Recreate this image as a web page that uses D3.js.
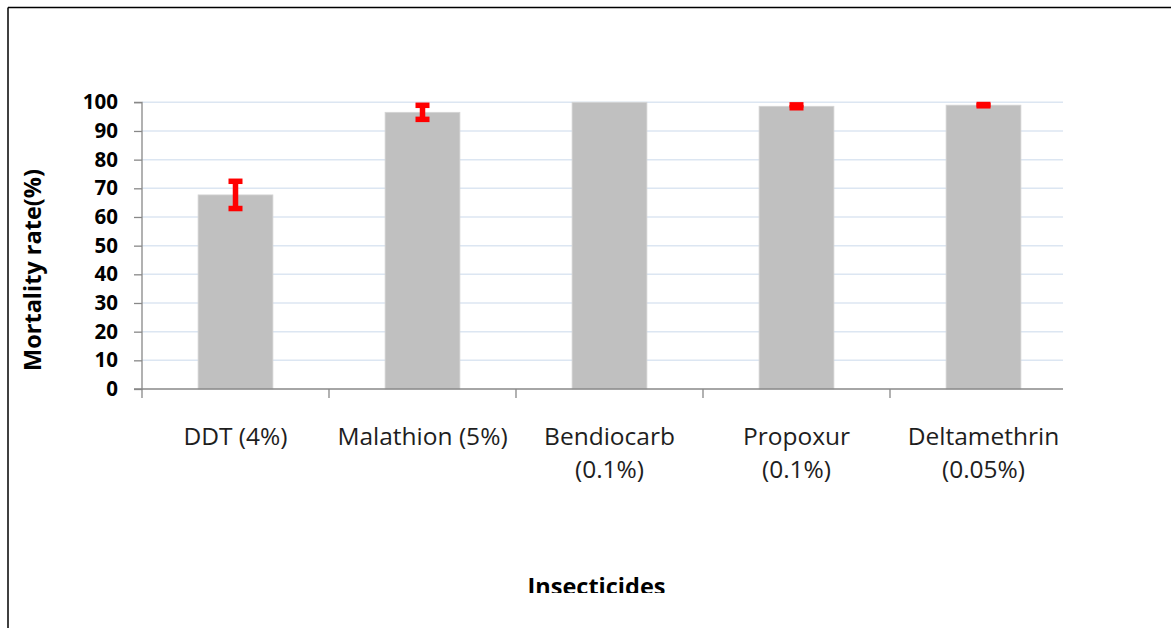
<!DOCTYPE html>
<html>
<head>
<meta charset="utf-8">
<script src="https://cdn.jsdelivr.net/npm/d3@7"></script>
<style>
  html, body { margin: 0; padding: 0; background: #fff; }
  svg { display: block; }
</style>
</head>
<body>
<svg id="chart" width="1171" height="628"></svg>
<script>
// ---- data ----
const categories = [["DDT (4%)"], ["Malathion (5%)"], ["Bendiocarb", "(0.1%)"], ["Propoxur", "(0.1%)"], ["Deltamethrin", "(0.05%)"]];
const mortality = [67.7, 96.5, 100, 98.6, 99.0];
const errors = [4.75, 2.45, 0, 0.5, 0.22];
const yTicks = [0, 10, 20, 30, 40, 50, 60, 70, 80, 90, 100];
const yTitle = "Mortality rate(%)";
const xTitle = "Insecticides";

// ---- layout ----
const W = 1171, H = 628;
const plotLeft = 142, plotRight = 1063, bandRight = 1077;
const plotTop = 102.3, plotBottom = 389;
const FONT = "'Open Sans', Lato, sans-serif";

const svg = d3.select("#chart");

// frame borders
svg.append("line").attr("x1", 8).attr("x2", W).attr("y1", 7.5).attr("y2", 7.5)
  .attr("stroke", "#000").attr("stroke-width", 1.5);
svg.append("line").attr("x1", 8).attr("x2", 8).attr("y1", 7.5).attr("y2", H)
  .attr("stroke", "#000").attr("stroke-width", 1.5);

svg.append("defs").append("clipPath").attr("id", "clipc")
  .append("rect").attr("x", 9).attr("y", 9).attr("width", W).attr("height", 584);

const g = svg.append("g").attr("clip-path", "url(#clipc)");

const x = d3.scaleBand().domain(d3.range(categories.length)).range([plotLeft, bandRight]).padding(0);
const y = d3.scaleLinear().domain([0, 100]).range([plotBottom, plotTop]);

// gridlines
g.append("g").selectAll("line").data(yTicks.filter(d => d > 0)).join("line")
  .attr("x1", plotLeft).attr("x2", plotRight)
  .attr("y1", d => y(d)).attr("y2", d => y(d))
  .attr("stroke", "#dce6f2").attr("stroke-width", 1.5);

// bars
const barW = x.step() * 0.4;
g.append("g").selectAll("rect").data(mortality).join("rect")
  .attr("x", (d, i) => x(i) + x.step() / 2 - barW / 2)
  .attr("width", barW)
  .attr("y", d => y(d))
  .attr("height", d => y(0) - y(d))
  .attr("fill", "#c0c0c0")
  .attr("stroke", "#d4d4d4").attr("stroke-width", 0.8);

// error bars
const eb = g.append("g");
mortality.forEach((v, i) => {
  const e = errors[i];
  if (e <= 0) return;
  const cx = x(i) + x.step() / 2;
  const capW = 14, th = 5.5;
  eb.append("line").attr("x1", cx).attr("x2", cx)
    .attr("y1", y(v + e)).attr("y2", y(v - e))
    .attr("stroke", "#ff0000").attr("stroke-width", 5.5);
  [v + e, v - e].forEach(t => {
    eb.append("rect").attr("x", cx - capW / 2).attr("width", capW)
      .attr("y", y(t) - th / 2).attr("height", th).attr("fill", "#ff0000");
  });
});

// y axis
const yAxis = g.append("g").attr("transform", `translate(${plotLeft},0)`)
  .call(d3.axisLeft(y).tickValues(yTicks).tickSize(8).tickPadding(16));
yAxis.select(".domain").attr("stroke", "#888").attr("stroke-width", 1.3)
  .attr("d", `M-8,${plotTop}H0V${plotBottom}H-8`);
yAxis.selectAll(".tick line").attr("stroke", "#888").attr("stroke-width", 1.3);
yAxis.selectAll(".tick text")
  .attr("font-family", FONT)
  .attr("font-weight", "bold").attr("font-size", 20.5).attr("fill", "#000");

// x axis
const xa = g.append("g");
xa.append("line").attr("x1", plotLeft).attr("x2", plotRight)
  .attr("y1", plotBottom).attr("y2", plotBottom)
  .attr("stroke", "#888").attr("stroke-width", 1.5);
xa.selectAll("line.tk").data(d3.range(categories.length)).join("line").attr("class", "tk")
  .attr("x1", i => x(i)).attr("x2", i => x(i))
  .attr("y1", plotBottom).attr("y2", plotBottom + 9)
  .attr("stroke", "#888").attr("stroke-width", 1.3);

// x labels
const lbl = g.append("g").selectAll("text").data(categories).join("text")
  .attr("text-anchor", "middle")
  .attr("font-family", FONT)
  .attr("font-size", 24.5).attr("fill", "#1e1e1e");
lbl.each(function (lines, i) {
  const t = d3.select(this);
  lines.forEach((s, k) => {
    t.append("tspan").attr("x", x(i) + x.step() / 2).attr("y", 445 + k * 33).text(s);
  });
});

// y title
g.append("text").attr("transform", "translate(41,270) rotate(-90)")
  .attr("text-anchor", "middle")
  .attr("font-family", FONT)
  .attr("font-weight", "bold").attr("font-size", 23.5).attr("fill", "#000")
  .text(yTitle);

// x title
g.append("text").attr("x", 596.5).attr("y", 595)
  .attr("text-anchor", "middle")
  .attr("font-family", FONT)
  .attr("font-weight", "bold").attr("font-size", 23.5).attr("fill", "#000")
  .text(xTitle);
</script>
</body>
</html>
